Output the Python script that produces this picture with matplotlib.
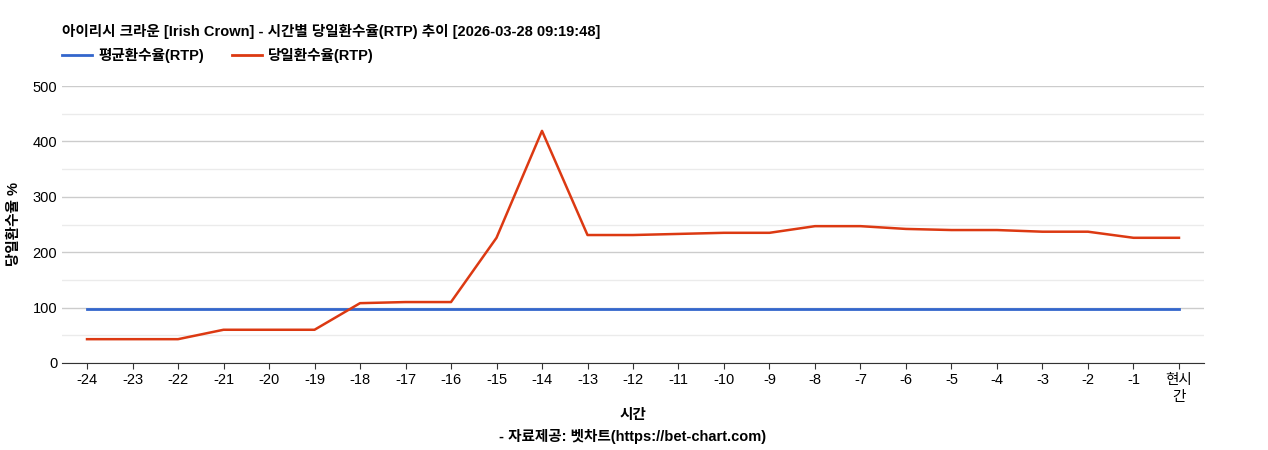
import matplotlib
matplotlib.use("Agg")
import matplotlib.pyplot as plt

plt.rcParams['font.family'] = ['Liberation Sans', 'Noto Sans CJK KR', 'DejaVu Sans']

labels = ['-24', '-23', '-22', '-21', '-20', '-19', '-18', '-17', '-16', '-15', '-14', '-13',
          '-12', '-11', '-10', '-9', '-8', '-7', '-6', '-5', '-4', '-3', '-2', '-1', '현시\n간']
avg_rtp = [97] * 25
day_rtp = [43, 43, 43, 60, 60, 60, 108, 110, 110, 226, 419, 231,
           231, 233, 235, 235, 247, 247, 242, 240, 240, 237, 237, 226, 226]

fig = plt.figure(figsize=(12.68, 4.5), dpi=100)
ax = fig.add_axes([62 / 1268, 1 - 363 / 450, (1204 - 62) / 1268, (363 - 86) / 450])

x = range(len(labels))
ax.plot(x, avg_rtp, color='#3366cc', lw=2)
ax.plot(x, day_rtp, color='#dc3912', lw=1.8)

ax.set_xlim(-0.55, len(labels) - 0.45)
ax.set_ylim(0, 500)
ax.set_yticks(range(0, 501, 100))
ax.set_yticks(range(50, 500, 100), minor=True)
ax.tick_params(axis='y', which='both', length=0, labelsize=10.5)
ax.grid(axis='y', which='major', color='#cccccc', lw=1)
ax.grid(axis='y', which='minor', color='#ebebeb', lw=1)
ax.set_axisbelow(True)
ax.set_xticks(list(x))
ax.set_xticklabels(labels, fontsize=10.5)
ax.tick_params(axis='x', length=4, color='#333333')
for s in ['top', 'right', 'left']:
    ax.spines[s].set_visible(False)
ax.spines['bottom'].set_color('#333333')

ax.set_ylabel('당일환수율 %', fontsize=10.5, fontweight='bold', labelpad=8)
fig.text(633 / 1268, 1 - 415 / 450, '시간', ha='center', va='center', fontsize=10.5, fontweight='bold')
fig.text(633 / 1268, 1 - 437 / 450, '- 자료제공: 벳차트(https://bet-chart.com)', ha='center', va='center',
         fontsize=10.5, fontweight='bold')
fig.text(62 / 1268, 1 - 31 / 450, '아이리시 크라운 [Irish Crown] - 시간별 당일환수율(RTP) 추이 [2026-03-28 09:19:48]',
         ha='left', va='center', fontsize=10.5, fontweight='bold')

fig.lines.append(plt.Line2D([62 / 1268, 92 / 1268], [1 - 55 / 450] * 2, color='#3366cc', lw=2, transform=fig.transFigure))
fig.text(98 / 1268, 1 - 55 / 450, '평균환수율(RTP)', ha='left', va='center', fontsize=10.5, fontweight='bold')
fig.lines.append(plt.Line2D([232 / 1268, 262 / 1268], [1 - 55 / 450] * 2, color='#dc3912', lw=2, transform=fig.transFigure))
fig.text(268 / 1268, 1 - 55 / 450, '당일환수율(RTP)', ha='left', va='center', fontsize=10.5, fontweight='bold')

fig.savefig('out.png', dpi=100)
